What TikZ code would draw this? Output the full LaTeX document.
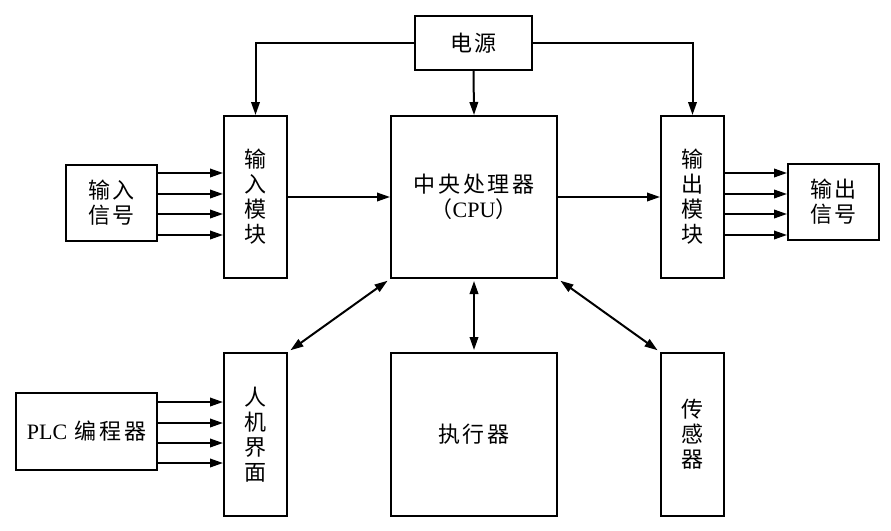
\documentclass[tikz,border=0pt]{standalone}
\usepackage{fontspec}
\setmainfont{Liberation Serif}
\newfontfamily\cjk[LetterSpace=12]{Noto Sans CJK SC}
\usetikzlibrary{arrows.meta}
\begin{document}
\begin{tikzpicture}[x=1pt,y=-1pt,
  box/.style={draw,line width=2pt,inner sep=0pt,align=center,
    font=\cjk\fontsize{22}{25}\selectfont},
  conn/.style={line width=2pt,-{Triangle[length=13pt,width=8.5pt]}},
  dconn/.style={line width=2pt,{Triangle[length=13pt,width=8.5pt]}-{Triangle[length=13pt,width=8.5pt]}}]
\useasboundingbox[fill=white] (0,0) rectangle (891,530);
\node[box,minimum width=117pt,minimum height=54pt] (pw) at (473.5,43) {电源};
\node[box,minimum width=166pt,minimum height=162pt] (cpu) at (474,197)
  {中央处理器\\[0pt]（{\rmfamily CPU}）};
\node[box,minimum width=63pt,minimum height=162pt] (inmod) at (255.5,197) {输\\入\\模\\块};
\node[box,minimum width=91pt,minimum height=76pt] (insig) at (111.5,203) {输入\\信号};
\node[box,minimum width=63pt,minimum height=162pt] (outmod) at (692.5,197) {输\\出\\模\\块};
\node[box,minimum width=91pt,minimum height=76pt] (outsig) at (833.5,202) {输出\\信号};
\node[box,minimum width=63pt,minimum height=163pt] (hmi) at (255.5,434.5) {人\\机\\界\\面};
\node[box,minimum width=141pt,minimum height=77pt] (plc) at (86.5,431.5) {{\rmfamily PLC} 编程器};
\node[box,minimum width=166pt,minimum height=163pt] (act) at (474,434.5) {执行器};
\node[box,minimum width=63pt,minimum height=163pt] (sens) at (692.5,434.5) {传\\感\\器};
% power
\draw[conn] (pw.west) -| (inmod.north);
\draw[conn] (pw.east) -| (outmod.north);
\draw[conn] (pw.south) -- (cpu.north);
% signals
\foreach \yy in {173,194,214,235}{
  \draw[conn] (insig.east |- 0,\yy) -- (inmod.west |- 0,\yy);
  \draw[conn] (outmod.east |- 0,\yy) -- (outsig.west |- 0,\yy);
}
\foreach \yy in {402,423,443,463}{
  \draw[conn] (plc.east |- 0,\yy) -- (hmi.west |- 0,\yy);
}
\draw[conn] (inmod.east) -- (cpu.west);
\draw[conn] (cpu.east) -- (outmod.west);
\draw[dconn,shorten <=3pt,shorten >=3pt] (hmi.north east) -- (cpu.south west);
\draw[dconn,shorten <=2pt,shorten >=2pt] (cpu.south) -- (act.north);
\draw[dconn,shorten <=3pt,shorten >=3pt] (cpu.south east) -- (sens.north west);
\end{tikzpicture}
\end{document}
